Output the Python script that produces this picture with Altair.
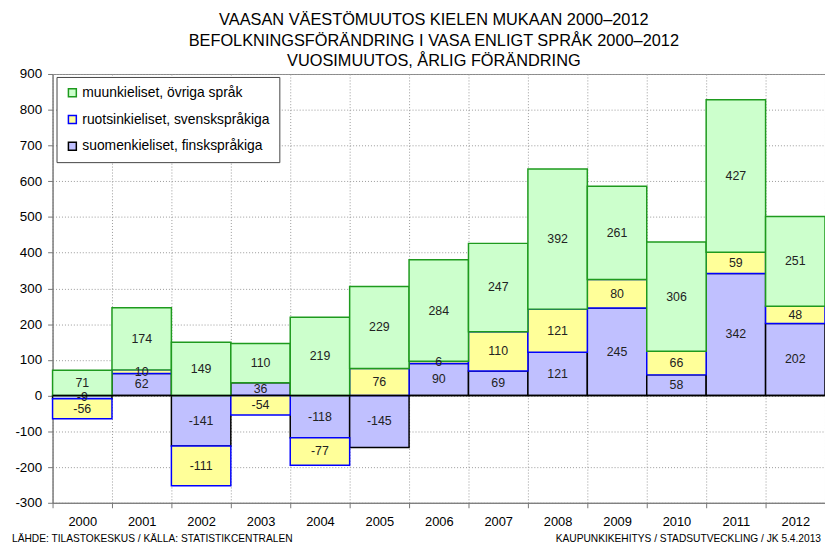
import altair as alt
import pandas as pd

years = [str(y) for y in range(2000, 2013)]
finnish = [-9, 62, -141, 36, -118, -145, 90, 69, 121, 245, 58, 342, 202]
swedish = [-56, 10, -111, -54, -77, 76, 6, 110, 121, 80, 66, 59, 48]
other = [71, 174, 149, 110, 219, 229, 284, 247, 392, 261, 306, 427, 251]

series_names = [
    "suomenkieliset, finskspråkiga",
    "ruotsinkieliset, svenskspråkiga",
    "muunkieliset, övriga språk",
]
legend_order = [series_names[2], series_names[1], series_names[0]]
fill_colors = ["#CCFFCC", "#FFFF99", "#C0C0FF"]
stroke_colors = ["#1E9A1E", "#0000FF", "#000000"]

title_lines = [
    "VAASAN VÄESTÖMUUTOS KIELEN MUKAAN 2000–2012",
    "BEFOLKNINGSFÖRÄNDRING I VASA ENLIGT SPRÅK 2000–2012",
    "VUOSIMUUTOS, ÅRLIG FÖRÄNDRING",
]
footer_left = "LÄHDE: TILASTOKESKUS / KÄLLA: STATISTIKCENTRALEN"
footer_right = "KAUPUNKIKEHITYS / STADSUTVECKLING / JK 5.4.2013"
y_ticks = list(range(-300, 901, 100))

rows = []
for i, y in enumerate(years):
    for k, (name, vals) in enumerate(zip(series_names, [finnish, swedish, other])):
        rows.append({"year": y, "lang": name, "value": vals[i], "label": str(vals[i]), "order": k})
df = pd.DataFrame(rows)

FONT = "Liberation Sans"

base = alt.Chart(df).transform_stack(
    stack="value",
    groupby=["year"],
    as_=["y0", "y1"],
    offset="zero",
    sort=[alt.SortField("order", order="ascending")],
)

yscale = alt.Scale(domain=[-300, 900], nice=False, zero=False)
yaxis = alt.Axis(
    title=None, values=y_ticks, labelFontSize=13.5, labelFont=FONT, labelColor="#000",
    labelOverlap=False, labelExpr="replace(datum.label, '−', '-')",
    grid=True, gridColor="#999", gridDash=[1, 2], domainColor="#777",
    tickColor="#777", tickSize=5, labelPadding=6,
)
xscale = alt.Scale(paddingInner=0, paddingOuter=0)
xaxis = alt.Axis(
    title=None, labelAngle=0, labelFontSize=13, labelFont=FONT, labelColor="#000",
    tickBand="extent", grid=True, gridColor="#999", gridDash=[1, 2],
    domainColor="#777", tickColor="#777", tickSize=5, labelPadding=8,
)

bars = base.mark_bar(strokeWidth=1.5).encode(
    x=alt.X("year:N", scale=xscale, axis=xaxis),
    y=alt.Y("y0:Q", scale=yscale, axis=yaxis),
    y2="y1:Q",
    fill=alt.Fill(
        "lang:N",
        scale=alt.Scale(domain=legend_order, range=fill_colors),
        legend=alt.Legend(
            title=None, orient="none", legendX=4, legendY=3, direction="vertical",
            fillColor="white", strokeColor="#444", padding=9,
            symbolType="square", symbolSize=64, symbolStrokeWidth=1.5,
            labelFontSize=14, labelFont=FONT, labelColor="#000", rowPadding=13,
            labelOffset=3, labelLimit=400,
        ),
    ),
    stroke=alt.Stroke(
        "lang:N",
        scale=alt.Scale(domain=legend_order, range=stroke_colors),
    ),
    order=alt.Order("order:Q"),
)

labels = base.transform_calculate(mid="(datum.y0 + datum.y1) / 2").mark_text(
    fontSize=12.5, font=FONT, color="#222", baseline="middle"
).encode(
    x=alt.X("year:N", scale=xscale, axis=xaxis),
    y=alt.Y("mid:Q", scale=yscale, axis=yaxis),
    text=alt.Text("label:N"),
)

zero_rule = alt.Chart(pd.DataFrame({"v": [0]})).mark_rule(color="#000", strokeWidth=1.5).encode(
    y=alt.Y("v:Q", scale=yscale, axis=yaxis)
)

def text_at(txt, x, y, size, align="center"):
    return alt.Chart(pd.DataFrame({"t": [txt]})).mark_text(
        fontSize=size, font=FONT, color="#000", align=align, baseline="middle"
    ).encode(x=alt.value(x), y=alt.value(y), text="t:N")

t1 = text_at(title_lines[0], 385, -54, 16.5)
t2 = text_at(title_lines[1], 385, -33, 16.5)
t3 = text_at(title_lines[2], 385, -13, 16.5)
f1 = text_at(footer_left, -41, 470, 10.3, "left")
f2 = text_at(footer_right, 776, 470, 10.3, "right")

chart = alt.layer(bars, labels, zero_rule, t1, t2, t3, f1, f2).properties(
    width=780,
    height=433,
    autosize=alt.AutoSizeParams(type="none"),
    padding={"left": 45, "top": 64, "right": 0, "bottom": 43},
).configure_view(stroke="#888").configure_axis(labelOverlap=False)

chart.save("out.html", embed_options={"renderer": "svg", "actions": False})
